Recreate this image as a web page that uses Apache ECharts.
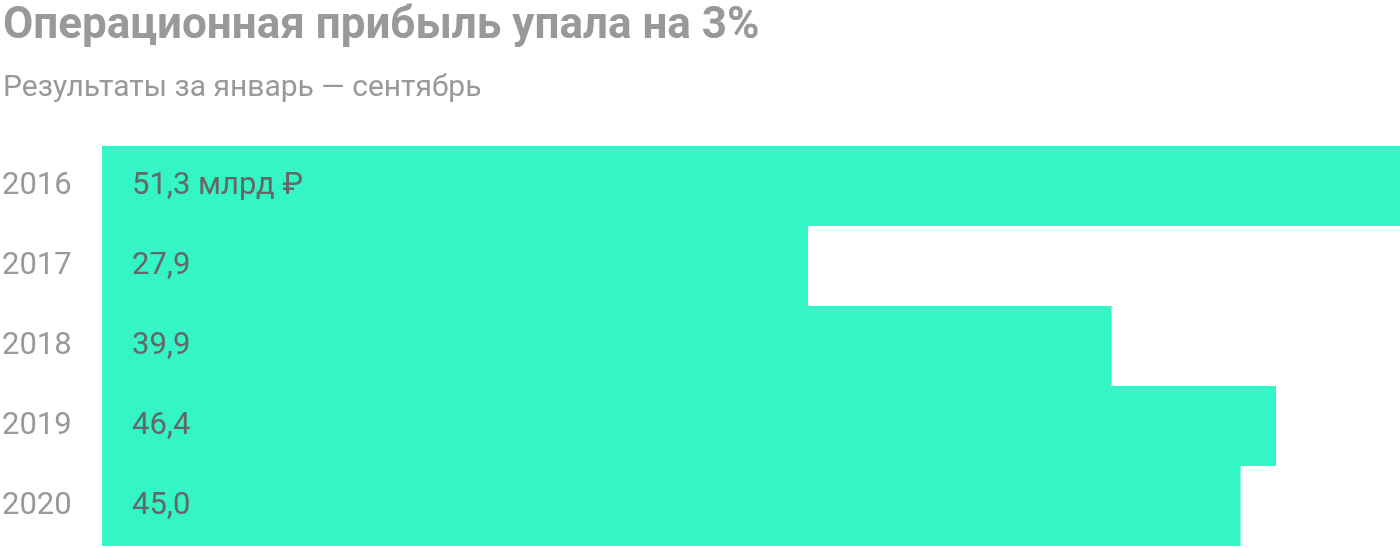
<!DOCTYPE html>
<html><head><meta charset="utf-8">
<script src="https://cdn.jsdelivr.net/npm/echarts@6/dist/echarts.min.js"></script>
<style>html,body{margin:0;padding:0;background:#fff}#c{width:1400px;height:548px}</style>
</head><body><div id="c"></div>
<script>
const titleText = 'Операционная прибыль упала на 3%';
const subtitleText = 'Результаты за январь — сентябрь';
const categories = ['2016', '2017', '2018', '2019', '2020'];
const values = [51.3, 27.9, 39.9, 46.4, 45.0];
const valueLabels = ['51,3 млрд ₽', '27,9', '39,9', '46,4', '45,0'];

const chart = echarts.init(document.getElementById('c'));
chart.setOption({
  animation: false,
  title: [
    { text: titleText, left: -2, top: 0, textStyle: { fontFamily: 'Roboto', fontWeight: 'bold', fontSize: 44, color: '#999999' } },
    { text: subtitleText, left: -2, top: 68, textStyle: { fontFamily: 'Roboto', fontWeight: 'normal', fontSize: 30, color: '#999999' } }
  ],
  grid: { left: 102, right: 0, top: 146, bottom: 2, containLabel: false, outerBoundsMode: 'none' },
  xAxis: { type: 'value', min: 0, max: 51.3, show: false },
  yAxis: {
    type: 'category', data: categories, inverse: true,
    axisLine: { show: false }, axisTick: { show: false }, splitLine: { show: false },
    axisLabel: { align: 'left', margin: 100, padding: [4, 0, 0, 0], fontFamily: 'Roboto', fontSize: 31, color: '#999999' }
  },
  series: [{
    type: 'bar', data: values, barCategoryGap: 0, barWidth: '100%',
    itemStyle: { color: '#33F5C5' },
    label: {
      show: true, position: 'insideLeft', distance: 30, padding: [4, 0, 0, 0],
      fontFamily: 'Roboto', fontSize: 31, color: '#666666',
      formatter: p => valueLabels[p.dataIndex]
    }
  }]
});
</script></body></html>
